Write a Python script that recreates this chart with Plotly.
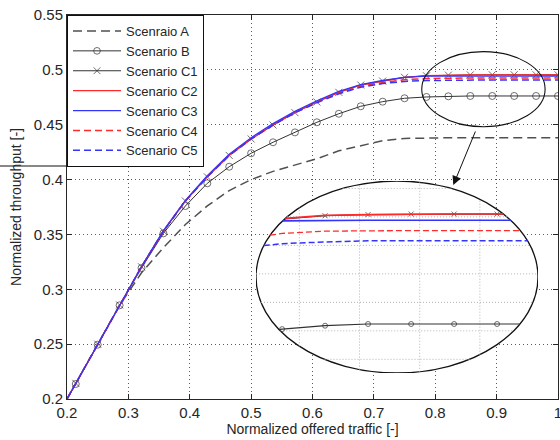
import math
import plotly.graph_objects as go

# ---------------- data ----------------
offered = [0.2, 0.2143, 0.25, 0.2857, 0.3214, 0.3571, 0.3929, 0.4286, 0.4643, 0.5,
           0.5357, 0.5714, 0.6071, 0.6429, 0.6786, 0.7143, 0.75, 0.7857, 0.8214,
           0.8571, 0.8929, 0.9286, 0.9643, 1.0]

scen_A = [0.2, 0.2143, 0.25, 0.2855, 0.315, 0.338, 0.359, 0.376, 0.390, 0.400,
          0.4075, 0.4135, 0.419, 0.4262, 0.431, 0.4355, 0.4375, 0.438, 0.4381,
          0.4382, 0.4382, 0.4382, 0.4382, 0.4382]
scen_B = [0.2, 0.2137, 0.2495, 0.2854, 0.3194, 0.351, 0.3759, 0.3966, 0.4117, 0.424,
          0.434, 0.443, 0.4522, 0.460, 0.4668, 0.471, 0.4741, 0.4753, 0.4759,
          0.4762, 0.4762, 0.4762, 0.4762, 0.4762]
scen_C1 = [0.2, 0.2143, 0.25, 0.2857, 0.3205, 0.353, 0.3805, 0.4025, 0.422, 0.437,
           0.4497, 0.461, 0.4707, 0.4795, 0.4862, 0.4898, 0.4932, 0.4946, 0.4952,
           0.4954, 0.4955, 0.4955, 0.4955, 0.4955]
scen_C2 = [0.2, 0.2143, 0.25, 0.2857, 0.3205, 0.353, 0.3805, 0.4025, 0.422, 0.437,
           0.4497, 0.461, 0.4707, 0.4795, 0.4862, 0.4898, 0.4932, 0.4947, 0.4953,
           0.4954, 0.4955, 0.4955, 0.4955, 0.4955]
scen_C3 = [0.2, 0.2143, 0.25, 0.2857, 0.3208, 0.3535, 0.381, 0.4035, 0.4232, 0.4382,
           0.451, 0.4622, 0.4718, 0.4803, 0.4866, 0.4903, 0.4932, 0.4943, 0.4944,
           0.4944, 0.4944, 0.4944, 0.4944, 0.4944]
scen_C4 = [0.2, 0.2143, 0.25, 0.2857, 0.3205, 0.353, 0.3805, 0.4025, 0.422, 0.437,
           0.4497, 0.461, 0.4705, 0.4788, 0.485, 0.4885, 0.491, 0.4921, 0.4925,
           0.4926, 0.4926, 0.4926, 0.4926, 0.4926]
scen_C5 = [0.2, 0.2143, 0.25, 0.2857, 0.3205, 0.353, 0.3805, 0.4025, 0.422, 0.437,
           0.4497, 0.461, 0.470, 0.4782, 0.4842, 0.4875, 0.4895, 0.4903, 0.4906,
           0.4908, 0.4908, 0.4908, 0.4908, 0.4908]

series_names = ["Scenraio A", "Scenario B", "Scenario C1", "Scenario C2",
                "Scenario C3", "Scenario C4", "Scenario C5"]

x_tickvals = [0.2, 0.3, 0.4, 0.5, 0.6, 0.7, 0.8, 0.9, 1.0]
x_ticktext = ["0.2", "0.3", "0.4", "0.5", "0.6", "0.7", "0.8", "0.9", "1"]
y_tickvals = [0.2, 0.25, 0.3, 0.35, 0.4, 0.45, 0.5, 0.55]
y_ticktext = ["0.2", "0.25", "0.3", "0.35", "0.4", "0.45", "0.5", "0.55"]

inset_x_grid = [0.8, 0.85, 0.9, 0.95]
inset_y_grid = [0.47, 0.475, 0.48, 0.485, 0.49, 0.495, 0.5]

# ---------------- layout geometry / styles ----------------
W, H = 560, 440
ML, MR, MT, MB = 67, 2, 15, 41
PW, PH = W - ML - MR, H - MT - MB
FONT = "Liberation Sans, Arial, Helvetica, sans-serif"
TXT = "#262626"

INSET_X = [0.764, 0.9983]
INSET_Y = [0.4676, 0.5013]
inset_dom_x = [(256 - ML) / PW, (538 - ML) / PW]
inset_dom_y = [(H - MB - 373) / PH, (H - MB - 181) / PH]

ecx, ecy = (INSET_X[0] + INSET_X[1]) / 2, (INSET_Y[0] + INSET_Y[1]) / 2
erx, ery = (INSET_X[1] - INSET_X[0]) / 2, (INSET_Y[1] - INSET_Y[0]) / 2

RED = "#ff2b2b"
BLUE = "#3434ff"
DARK = "#333333"

styles = [
    dict(line=dict(color="#505050", width=1.5, dash="9px,5px"), marker=None),
    dict(line=dict(color=DARK, width=1), marker=dict(symbol="circle-open", color=DARK, line=dict(width=1, color=DARK))),
    dict(line=dict(color=DARK, width=1), marker=dict(symbol="x-thin", color=DARK, line=dict(width=1, color=DARK))),
    dict(line=dict(color=RED, width=1.3), marker=None),
    dict(line=dict(color=BLUE, width=1.3), marker=None),
    dict(line=dict(color=RED, width=1.5, dash="7px,4px"), marker=None),
    dict(line=dict(color=BLUE, width=1.5, dash="7px,4px"), marker=None),
]
all_series = [scen_A, scen_B, scen_C1, scen_C2, scen_C3, scen_C4, scen_C5]
main_msize = [7, 7]  # circle, x
inset_msize = [5, 5]


def clip_to_ellipse(xs, ys, size):
    """Keep the parts of the polyline that lie inside the inset ellipse."""
    ox, oy, osz = [], [], []
    last_end = None
    for i in range(len(xs) - 1):
        x0, y0, x1, y1 = xs[i], ys[i], xs[i + 1], ys[i + 1]
        u0, v0 = (x0 - ecx) / erx, (y0 - ecy) / ery
        du, dv = (x1 - x0) / erx, (y1 - y0) / ery
        a = du * du + dv * dv
        b = 2 * (u0 * du + v0 * dv)
        c = u0 * u0 + v0 * v0 - 1
        disc = b * b - 4 * a * c
        if a == 0 or disc <= 0:
            continue
        t0 = (-b - math.sqrt(disc)) / (2 * a)
        t1 = (-b + math.sqrt(disc)) / (2 * a)
        ta, tb = max(t0, 0.0), min(t1, 1.0)
        if ta >= tb:
            continue
        pa = (x0 + ta * (x1 - x0), y0 + ta * (y1 - y0), size if ta == 0 else 0)
        pb = (x0 + tb * (x1 - x0), y0 + tb * (y1 - y0), size if tb == 1 else 0)
        if not (last_end is not None and last_end == i and ta == 0):
            if ox:
                ox.append(None); oy.append(None); osz.append(0)
            ox.append(pa[0]); oy.append(pa[1]); osz.append(pa[2])
        ox.append(pb[0]); oy.append(pb[1]); osz.append(pb[2])
        last_end = i + 1 if tb == 1 else None
    return ox, oy, osz


fig = go.Figure()

# main traces
for idx, (name, ys, st) in enumerate(zip(series_names, all_series, styles)):
    kw = dict(x=offered, y=ys, name=name, line=st["line"],
              xaxis="x", yaxis="y", hoverinfo="skip")
    if st["marker"] is not None:
        m = dict(st["marker"])
        m["size"] = [0] + [main_msize[idx - 1]] * (len(offered) - 1)
        kw["mode"] = "lines+markers"
        kw["marker"] = m
    else:
        kw["mode"] = "lines"
    fig.add_trace(go.Scatter(**kw))

# inset traces (zoomed view, clipped to the ellipse)
inset_lines = [
    dict(color="#505050", width=1.5, dash="9px,5px"),
    dict(color=DARK, width=1.2),
    dict(color=DARK, width=1.2),
    dict(color=RED, width=1.6),
    dict(color=BLUE, width=1.6),
    dict(color=RED, width=1.3, dash="6px,3px"),
    dict(color=BLUE, width=1.5, dash="6px,3px"),
]
for idx, (ys, st, ln) in enumerate(zip(all_series, styles, inset_lines)):
    size = inset_msize[idx - 1] if st["marker"] is not None else 0
    cx_, cy_, cs_ = clip_to_ellipse(offered, ys, size)
    if not cx_:
        continue
    kw = dict(x=cx_, y=cy_, line=ln, showlegend=False, xaxis="x2", yaxis="y2",
              hoverinfo="skip", connectgaps=False)
    if st["marker"] is not None:
        m = dict(st["marker"])
        m["size"] = cs_
        m["line"] = dict(width=1, color=DARK)
        kw["mode"] = "lines+markers"
        kw["marker"] = m
    else:
        kw["mode"] = "lines"
    fig.add_trace(go.Scatter(**kw))

# ---------------- shapes ----------------
shapes = []
shapes.append(dict(type="circle", xref="x2", yref="y2",
                   x0=INSET_X[0], x1=INSET_X[1], y0=INSET_Y[0], y1=INSET_Y[1],
                   fillcolor="white", line=dict(color="#111111", width=1.3), layer="below"))
for gx in inset_x_grid:
    u = (gx - ecx) / erx
    if abs(u) < 1:
        v = math.sqrt(1 - u * u)
        shapes.append(dict(type="line", xref="x2", yref="y2", x0=gx, x1=gx,
                           y0=ecy - ery * v, y1=ecy + ery * v,
                           line=dict(color="#b3b3b3", width=1, dash="1px,2px"), layer="below"))
for gy in inset_y_grid:
    v = (gy - ecy) / ery
    if abs(v) < 1:
        u = math.sqrt(1 - v * v)
        shapes.append(dict(type="line", xref="x2", yref="y2", y0=gy, y1=gy,
                           x0=ecx - erx * u, x1=ecx + erx * u,
                           line=dict(color="#b3b3b3", width=1, dash="1px,2px"), layer="below"))
shapes.append(dict(type="circle", xref="x", yref="y", x0=0.778, x1=0.979,
                   y0=0.4482, y1=0.5166, line=dict(color="#111111", width=1.1),
                   layer="above"))
legend_bottom_y = (H - MB - 166) / PH
shapes.append(dict(type="line", xref="paper", yref="paper", x0=-ML / PW, x1=0,
                   y0=legend_bottom_y, y1=legend_bottom_y,
                   line=dict(color="#111111", width=1), layer="above"))

annotations = [
    dict(x=0.8294, y=0.395, ax=0.8664, ay=0.4452, xref="x", yref="y",
         axref="x", ayref="y", text="", showarrow=True, arrowhead=2,
         arrowsize=1.8, arrowwidth=1, arrowcolor="#111111", standoff=0),
]

axis_common = dict(showline=True, linecolor=TXT, linewidth=1, mirror="allticks",
                   ticks="inside", ticklen=5, tickcolor=TXT, tickwidth=1,
                   showgrid=True, gridcolor="#5a5a5a", gridwidth=1, griddash="1px,3px",
                   zeroline=False, automargin=False,
                   tickfont=dict(family=FONT, size=15, color=TXT))

fig.update_layout(
    width=W, height=H, autosize=False,
    margin=dict(l=ML, r=MR, t=MT, b=MB, pad=0, autoexpand=False),
    paper_bgcolor="white", plot_bgcolor="rgba(0,0,0,0)",
    font=dict(family=FONT, size=14, color=TXT),
    xaxis=dict(range=[0.2, 1.0], tickvals=x_tickvals, ticktext=x_ticktext,
               ticklabeloverflow="allow",
               title=dict(text="Normalized offered traffic [-]", font=dict(size=14), standoff=4),
               domain=[0, 1], anchor="y", **axis_common),
    yaxis=dict(range=[0.2, 0.55], tickvals=y_tickvals, ticktext=y_ticktext,
               title=dict(text="Normalized throughput [-]", font=dict(size=14), standoff=8),
               domain=[0, 1], anchor="x", **axis_common),
    xaxis2=dict(range=INSET_X, domain=inset_dom_x, anchor="y2", visible=False,
                showgrid=False, zeroline=False),
    yaxis2=dict(range=INSET_Y, domain=inset_dom_y, anchor="x2", visible=False,
                showgrid=False, zeroline=False),
    legend=dict(x=0, y=1, xanchor="left", yanchor="top", xref="paper", yref="paper",
                bgcolor="white", bordercolor="#111111", borderwidth=1,
                font=dict(family=FONT, size=13, color=TXT), tracegroupgap=0,
                itemwidth=48),
    shapes=shapes,
    annotations=annotations,
    showlegend=True,
)

fig.write_html("out.html", config={"displayModeBar": False},
               post_script="document.body.style.margin='0';document.body.style.overflow='hidden';")
